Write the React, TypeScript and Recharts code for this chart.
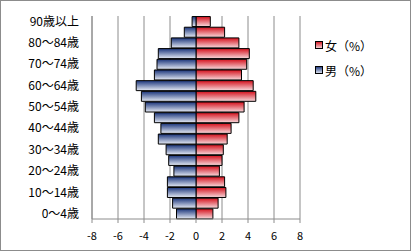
import React from 'react'
import { BarChart, Bar, XAxis, YAxis, CartesianGrid } from 'recharts'

// 年齢階級（下から上）
const ageGroups = [
  '0～4歳', '5～9歳', '10～14歳', '15～19歳', '20～24歳', '25～29歳', '30～34歳',
  '35～39歳', '40～44歳', '45～49歳', '50～54歳', '55～59歳', '60～64歳', '65～69歳',
  '70～74歳', '75～79歳', '80～84歳', '85～89歳', '90歳以上',
]
const male = [1.5, 1.8, 2.2, 2.2, 1.7, 2.1, 2.3, 2.9, 2.7, 3.2, 3.9, 4.2, 4.6, 3.2, 3.0, 2.9, 1.9, 0.9, 0.3]
const female = [1.3, 1.7, 2.3, 2.2, 1.8, 2.0, 2.1, 2.4, 2.7, 3.3, 3.7, 4.6, 4.4, 3.5, 3.9, 4.1, 3.3, 2.2, 1.1]
const xTicks = [-8, -6, -4, -2, 0, 2, 4, 6, 8]

const data = ageGroups.map((age, i) => ({
  age,
  male: -male[i],
  female: female[i],
}))

const font = '"Noto Sans CJK JP", "Noto Sans", sans-serif'

function LegendBox() {
  const items = [
    { label: '女（%）', fill: 'url(#gradRed)' },
    { label: '男（%）', fill: 'url(#gradBlue)' },
  ]
  return (
    <div style={{ position: 'absolute', left: 314, top: 32, fontFamily: font, fontSize: 12, color: '#000' }}>
      {items.map((it) => (
        <div key={it.label} style={{ display: 'flex', alignItems: 'center', height: 25 }}>
          <svg width={9} height={9} style={{ marginRight: 1 }}>
            <rect x={0.5} y={0.5} width={7} height={7} fill={it.fill} stroke="#000" />
          </svg>
          <span>{it.label}</span>
        </div>
      ))}
    </div>
  )
}

export default function App() {
  return (
    <div
      style={{
        position: 'absolute',
        left: 0,
        top: 0,
        width: 411,
        height: 251,
        boxSizing: 'border-box',
        border: '1px solid #8c8c8c',
        background: '#fff',
      }}
    >
      <div style={{ position: 'absolute', left: -1, top: -1 }}>
        <BarChart
          width={411}
          height={251}
          data={data}
          layout="vertical"
          stackOffset="sign"
          barCategoryGap="5%"
          margin={{ top: 16, right: 111, bottom: 12, left: 0 }}
        >
          <defs>
            <linearGradient id="gradBlue" x1="0" y1="0" x2="0" y2="1">
              <stop offset="0%" stopColor="#1a347a" />
              <stop offset="100%" stopColor="#e6ebf5" />
            </linearGradient>
            <linearGradient id="gradRed" x1="0" y1="0" x2="0" y2="1">
              <stop offset="0%" stopColor="#d4101c" />
              <stop offset="100%" stopColor="#f8dadd" />
            </linearGradient>
          </defs>
          <CartesianGrid horizontal={false} stroke="#8c8c8c" />
          <XAxis
            type="number"
            domain={[-8, 8]}
            ticks={xTicks}
            stroke="#8c8c8c"
            tickSize={4}
            tickMargin={9}
            height={20}
            tick={{ fill: '#000', fontSize: 11, fontFamily: font }}
          />
          <YAxis
            type="category"
            dataKey="age"
            reversed
            interval={1}
            width={92}
            stroke="#8c8c8c"
            tickLine={false}
            tickSize={0}
            tickMargin={13}
            tick={{ fill: '#000', fontSize: 12, fontFamily: font }}
          />
          <Bar dataKey="female" name="女（%）" stackId="a" fill="url(#gradRed)" stroke="#000" strokeWidth={1} isAnimationActive={false} />
          <Bar dataKey="male" name="男（%）" stackId="a" fill="url(#gradBlue)" stroke="#000" strokeWidth={1} isAnimationActive={false} />
        </BarChart>
      </div>
      <LegendBox />
    </div>
  )
}
